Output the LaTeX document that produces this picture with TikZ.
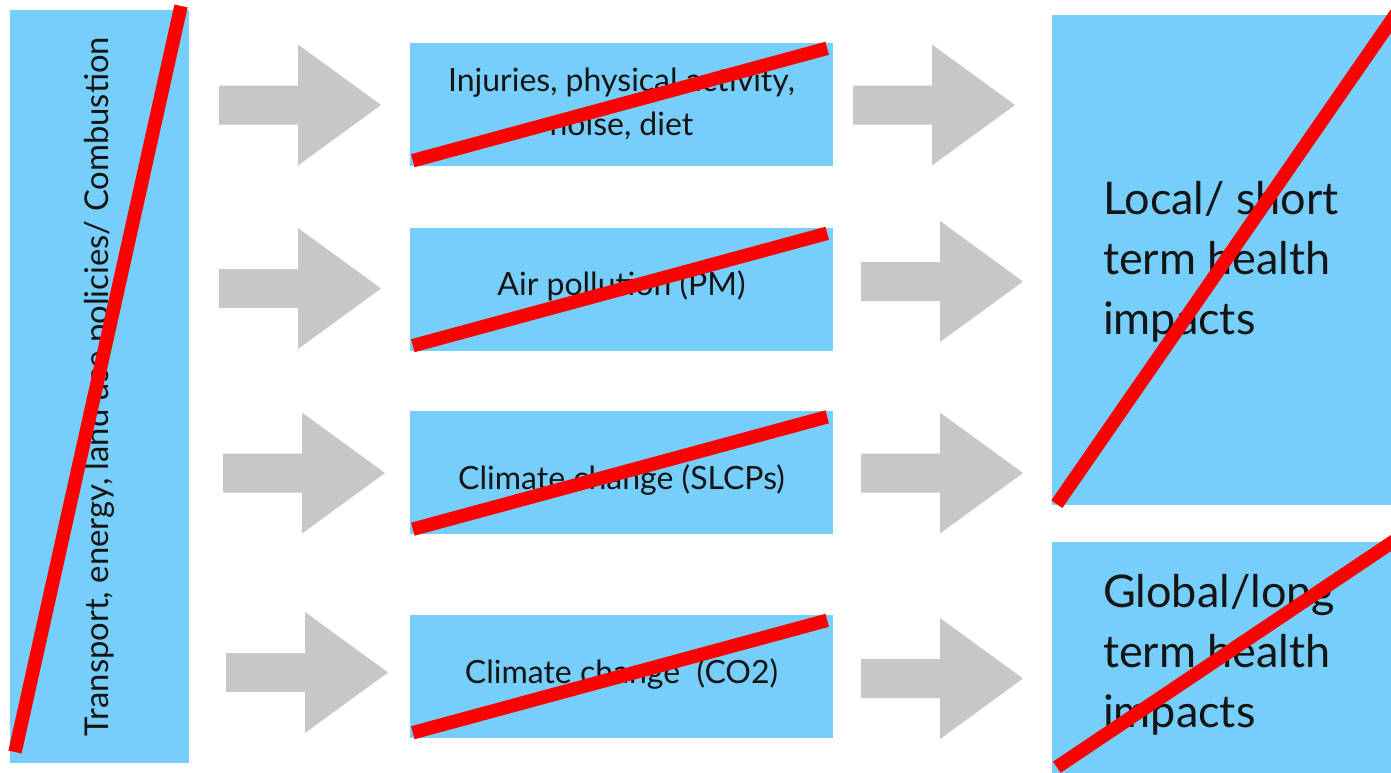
\documentclass[tikz,border=0pt]{standalone}
\usepackage{fontspec}
\setmainfont{Lato}
\usetikzlibrary{calc}
\definecolor{boxblue}{HTML}{76CEFA}
\definecolor{arrgrey}{HTML}{C6C7C6}
\definecolor{strikered}{HTML}{FF0000}
\definecolor{ink}{HTML}{141414}
\tikzset{
  box/.style={fill=boxblue, draw=none, inner sep=0pt, text=ink, align=center},
  midbox/.style={box, minimum width=423pt, minimum height=123pt,
    font=\fontsize{32}{44}\selectfont},
  bigbox/.style={box, minimum width=343pt},
  bigtext/.style={text=ink, align=left, inner sep=0pt, anchor=west,
    font=\fontsize{45}{60}\selectfont},
  strikeline/.style={draw=strikered, line width=13.5pt},
  garrow/.pic={\fill[arrgrey] (0,-19.5) -- (79,-19.5) -- (79,-60.5) -- (162,0)
    -- (79,60.5) -- (79,19.5) -- (0,19.5) -- cycle;},
}
\begin{document}
\begin{tikzpicture}[x=1pt, y=-1pt]
  \clip (0,0) rectangle (1391,772);
  % source column
  \node[box, rotate=90, minimum width=753pt, minimum height=179pt,
        font=\fontsize{32.8}{44}\selectfont] (src) at (99.5,386.5)
    {Transport, energy, land use policies/ Combustion};
  % pathways
  \node[midbox] (m1) at (621.5,104) {Injuries, physical activity,\\ noise, diet};
  \node[midbox, text height=13pt, text depth=0pt] (m2) at (621.5,289) {Air pollution (PM)};
  \node[midbox, text height=33pt, text depth=0pt] (m3) at (621.5,472.5) {Climate change (SLCPs)};
  \node[midbox, text height=15pt, text depth=0pt] (m4) at (621.5,676) {Climate change\ \ (CO2)};
  % outcomes
  \node[bigbox, minimum height=490pt] (r1) at (1223.5,260) {};
  \node[bigbox, minimum height=232pt] (r2) at (1223.5,658) {};
  \node[bigtext] (r1txt) at ($(r1.west)+(51,2)$) {Local/ short\\term health\\impacts};
  \node[bigtext] (r2txt) at ($(r2.west)+(51,-3)$) {Global/long\\term health\\impacts};
  % block arrows
  \foreach \x/\y in {219/105, 219/288.5, 223/473, 226/672.5,
                     853/105, 861/281.5, 861/473, 861/678.5}{
    \pic at (\x,\y) {garrow};}
  % crossed out
  \draw[strikeline] (15,752) -- (181,6);
  \foreach \n in {m1,m2,m3,m4}{
    \draw[strikeline] ($(\n.south west)+(3,-5)$) -- ($(\n.north east)+(-6,6)$);}
  \draw[strikeline] ($(r1.south west)+(5,-1)$) -- (1400,8);
  \draw[strikeline] ($(r2.south west)+(5,-7)$) -- (1400,537);
\end{tikzpicture}
\end{document}
